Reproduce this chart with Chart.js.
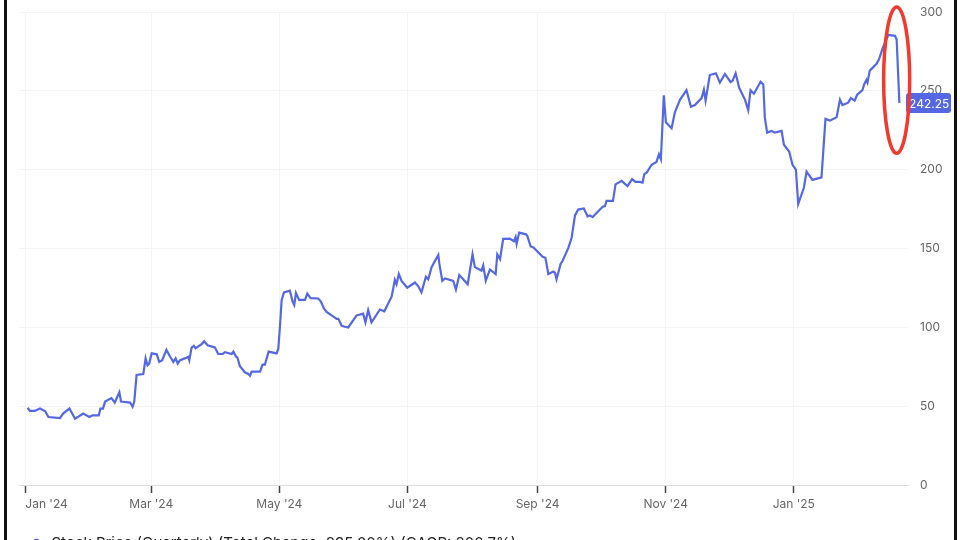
<!DOCTYPE html>
<html>
<head>
<meta charset="utf-8">
<script src="https://cdn.jsdelivr.net/npm/chart.js@4/dist/chart.umd.min.js"></script>
<style>
  html, body { margin: 0; padding: 0; background: #fff; overflow: hidden; }
  #wrap { position: relative; width: 960px; height: 540px; overflow: hidden; }
  #chart { position: absolute; left: 0; top: 0; }
  .edge { position: absolute; top: 0; width: 3px; height: 540px; background: #111; }
</style>
</head>
<body>
<div id="wrap">
  <canvas id="chart" width="960" height="561"></canvas>
  <div class="edge" style="left:4px"></div>
  <div class="edge" style="left:954px"></div>
</div>
<script>
// dias desde 1 ene 2024 y precio de cierre
const days = [
  1.1, 2.2, 4.5, 7, 9.5, 11, 16.5, 18, 21, 23.7, 27.6, 30.5, 32, 35, 35.8, 37, 38, 41, 42.6, 44.8,
  45.6, 49.9, 51.1, 51.9, 53, 56.2, 57.3, 58.2, 59, 60.2, 62.6, 63.8, 65.2, 67.2, 69, 70.5, 71.6, 72.6, 73.7, 76,
  77.6, 78.1, 79.2, 80.3, 81.1, 84, 85.2, 86.8, 90.3, 91.9, 94, 95.1, 98.3, 99.1, 100.4, 101, 102.2, 104.6, 106.2, 107,
  107.8, 111.8, 113, 114.1, 115.9, 119.7, 120.5, 121.3, 122.1, 123.2, 126, 127.3, 128.1, 128.9, 130.4, 133.2, 134.3, 135.9, 139.5, 140.8,
  142.2, 143.5, 145.9, 148.3, 149.1, 150.7, 152.3, 153.8, 157.8, 160.9, 162, 163.3, 164.9, 168.9, 171, 174.5, 176, 176.8, 177.9, 179.2,
  181.9, 185.6, 187.1, 188.7, 190.8, 191.9, 193.5, 196.7, 197.2, 198.6, 199.9, 203.8, 205.1, 206.7, 210.7, 213, 214.1, 217.3, 218.1, 219.3,
  221.3, 224, 224.8, 226.1, 227.6, 230.8, 232.7, 233.5, 234, 235.2, 238.5, 239.1, 240.7, 242, 246.4, 247.7, 249.1, 251.5, 252.3, 253,
  255, 255.8, 258.6, 260.2, 261.8, 263.3, 266, 267.8, 268.9, 270.2, 273.7, 275, 276.1, 276.8, 279.9, 281.1, 284, 286.8, 289, 290.6,
  292.7, 294, 294.8, 296, 298.3, 300.6, 301.8, 302.7, 304.1, 305.1, 307.8, 309.4, 311.8, 314.9, 317, 318.9, 322.1, 323.2, 324, 326,
  328.9, 330.8, 333.2, 335.9, 336.8, 338.3, 340, 342.8, 344.3, 345.4, 347, 350.2, 351.5, 352.2, 353.3, 355.4, 357, 360.2, 361.3, 363.8,
  365.4, 367, 368.1, 370.8, 372.1, 374.9, 379.2, 381.1, 383.2, 386.4, 388, 389.2, 391.9, 393.2, 395, 396.2, 398.7, 399.5, 400.6, 401.1,
  402.2, 405.4, 406.6, 408.3, 411, 414.2, 415, 416.3
];
const prices = [
  49.0, 47.0, 47.0, 48.5, 46.8, 43.1, 42.4, 45.3, 48.5, 42.0, 45.3, 43.1, 44.2, 44.2, 48.5, 48.5, 52.9, 55.1, 52.3, 58.8,
  52.9, 52.3, 49.6, 52.9, 69.8, 70.4, 80.3, 75.9, 77.0, 83.5, 82.9, 78.1, 79.2, 85.7, 81.3, 78.1, 80.3, 77.0, 79.2, 80.3,
  81.3, 79.2, 87.2, 88.3, 86.8, 89.4, 91.2, 88.6, 87.2, 83.1, 83.1, 84.2, 83.1, 84.6, 81.3, 80.9, 75.4, 71.5, 70.4, 69.3,
  71.9, 71.9, 76.3, 76.3, 84.6, 83.5, 86.4, 101.0, 117.4, 122.2, 123.3, 116.3, 114.1, 121.8, 117.4, 117.4, 121.4, 118.5, 118.3, 116.3,
  112.0, 109.8, 107.6, 105.4, 105.4, 101.0, 100.4, 99.9, 107.6, 108.7, 103.2, 110.9, 103.2, 111.3, 110.2, 119.6, 130.1, 127.3, 133.8, 129.5,
  125.1, 128.4, 126.2, 122.2, 132.1, 130.5, 138.2, 145.9, 140.4, 129.5, 131.0, 129.5, 124.0, 133.2, 127.3, 146.3, 138.2, 136.0, 139.3, 129.5,
  136.7, 133.8, 146.3, 143.2, 156.1, 156.3, 154.6, 157.2, 152.9, 160.1, 159.0, 157.9, 151.3, 150.7, 144.8, 144.1, 133.8, 135.4, 134.5, 130.5,
  140.4, 141.9, 150.2, 156.8, 171.0, 174.7, 175.4, 170.4, 171.0, 169.9, 174.7, 176.5, 176.9, 180.2, 180.2, 190.7, 192.9, 189.6, 194.0, 192.2,
  192.2, 191.8, 197.2, 198.3, 203.1, 204.9, 209.7, 206.6, 247.1, 230.0, 226.3, 236.6, 244.3, 250.4, 239.9, 241.0, 245.4, 250.8, 243.8, 260.0,
  261.1, 255.2, 260.7, 255.6, 256.2, 261.1, 251.9, 244.3, 237.7, 250.4, 248.2, 255.8, 254.1, 233.3, 223.5, 224.6, 223.5, 224.6, 215.8, 211.5,
  203.1, 200.1, 178.2, 188.5, 198.8, 193.5, 195.1, 232.2, 231.1, 233.3, 244.3, 241.0, 242.5, 245.4, 243.8, 247.5, 250.4, 254.1, 256.9, 255.2,
  262.8, 267.2, 270.0, 277.0, 285.4, 284.9, 282.5, 242.25
];

// marcas del eje x (inicio de mes) y sus etiquetas; la ultima marca vacia cierra el eje
const monthDays = [0, 60, 121, 182, 244, 305, 366, 420.4];
const monthLabels = ["Jan '24", "Mar '24", "May '24", "Jul '24", "Sep '24", "Nov '24", "Jan '25", ''];
const yTicks = [0, 50, 100, 150, 200, 250, 300];

const seriesLabel = 'Stock Price (Quarterly) (Total Change: 395.00%) (CAGR: 300.7%)';

// elipse roja que resalta la caida final (en unidades de datos)
const highlight = { day: 415, price: 256.8, halfDays: 6.2, halfPrice: 46.4 };

const lineColor = '#5568e4';
const fontFamily = 'Inter, "Open Sans", sans-serif';

// etiqueta con el ultimo precio sobre el eje derecho
const lastPriceBadge = {
    id: 'lastPriceBadge',
    afterDatasetsDraw(chart) {
        const { ctx, chartArea, scales } = chart;
        const last = prices[prices.length - 1];
        const y = scales.y.getPixelForValue(last);
        const x = chartArea.right - 2;
        const w = 45, h = 20;
        ctx.save();
        ctx.fillStyle = lineColor;
        ctx.beginPath();
        ctx.roundRect(x, y - h / 2, w, h, 3);
        ctx.fill();
        ctx.fillStyle = '#fff';
        ctx.font = '12px ' + fontFamily;
        ctx.textAlign = 'left';
        ctx.textBaseline = 'middle';
        ctx.fillText(last.toFixed(2), x + 3, y + 1);
        ctx.restore();
    }
};

const highlightEllipse = {
    id: 'highlightEllipse',
    afterDraw(chart) {
        const { ctx, scales } = chart;
        const cx = scales.x.getPixelForValue(highlight.day);
        const cy = scales.y.getPixelForValue(highlight.price);
        const rx = Math.abs(scales.x.getPixelForValue(highlight.day + highlight.halfDays) - cx);
        const ry = Math.abs(scales.y.getPixelForValue(highlight.price + highlight.halfPrice) - cy);
        ctx.save();
        ctx.strokeStyle = '#f2392c';
        ctx.lineWidth = 3.5;
        ctx.beginPath();
        ctx.ellipse(cx, cy, rx, ry, 0, 0, Math.PI * 2);
        ctx.stroke();
        ctx.restore();
    }
};

function initChart() {
    const ctx = document.getElementById('chart').getContext('2d');
    const lastTick = monthDays.length - 1;
    new Chart(ctx, {
        type: 'line',
        data: {
            datasets: [{
                label: seriesLabel,
                data: days.map((d, i) => ({ x: d, y: prices[i] })),
                borderColor: lineColor,
                backgroundColor: lineColor,
                borderWidth: 2.2,
                pointRadius: 0,
                tension: 0,
                fill: false
            }]
        },
        options: {
            responsive: false,
            animation: false,
            layout: { autoPadding: false, padding: { left: 19, top: 12, right: 0, bottom: 0 } },
            plugins: {
                tooltip: { enabled: false },
                legend: {
                    position: 'bottom',
                    align: 'start',
                    labels: {
                        usePointStyle: true,
                        pointStyle: 'circle',
                        boxWidth: 16,
                        boxHeight: 5,
                        padding: 10,
                        color: '#222',
                        font: { family: fontFamily, size: 15 }
                    }
                }
            },
            scales: {
                x: {
                    type: 'linear',
                    min: -3,
                    max: 420.4,
                    afterBuildTicks(scale) {
                        scale.ticks = monthDays.map(v => ({ value: v }));
                    },
                    afterFit(scale) {
                        scale.height = 41;
                    },
                    ticks: {
                        color: '#666',
                        font: { family: fontFamily, size: 12 },
                        maxRotation: 0,
                        autoSkip: false,
                        align: 'inner',
                        padding: 4,
                        callback(value) {
                            const i = monthDays.indexOf(value);
                            return i >= 0 ? monthLabels[i] : '';
                        }
                    },
                    grid: {
                        color: c => c.index === lastTick ? 'rgba(0,0,0,0)' : '#f4f4f4',
                        tickColor: c => c.index === lastTick ? 'rgba(0,0,0,0)' : '#444',
                        tickLength: 8,
                        tickWidth: 1.5
                    },
                    border: { color: '#ddd', width: 1 }
                },
                y: {
                    position: 'right',
                    min: 0,
                    max: 300,
                    afterBuildTicks(scale) {
                        scale.ticks = yTicks.map(v => ({ value: v }));
                    },
                    afterFit(scale) {
                        scale.width = 52;
                        scale.paddingTop = 0;
                        scale.paddingBottom = 0;
                    },
                    ticks: {
                        color: '#666',
                        font: { family: fontFamily, size: 12 },
                        padding: 12
                    },
                    grid: {
                        color: '#f4f4f4',
                        drawTicks: false
                    },
                    border: { display: false }
                }
            }
        },
        plugins: [lastPriceBadge, highlightEllipse]
    });
}

document.addEventListener('DOMContentLoaded', initChart);
</script>
</body>
</html>
